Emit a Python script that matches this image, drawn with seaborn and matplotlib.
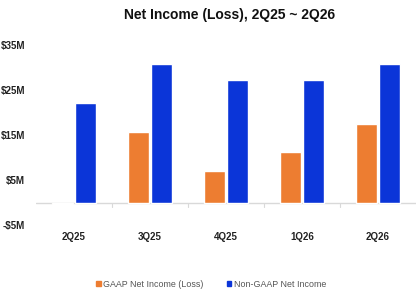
import matplotlib
matplotlib.use("Agg")
import matplotlib.pyplot as plt
from matplotlib.patches import Patch
import pandas as pd
import seaborn as sb
import numpy as np

quarters = ["2Q25", "3Q25", "4Q25", "1Q26", "2Q26"]
gaap = [-0.3, 15.8, 7.1, 11.2, 17.5]
non_gaap = [22.2, 30.7, 27.3, 27.3, 30.7]
series = ["GAAP Net Income (Loss)", "Non-GAAP Net Income"]
yticks = [-5, 5, 15, 25, 35]
ytick_labels = ["-$5M", "$5M", "$15M", "$25M", "$35M"]

colors = {series[0]: "#ED7D31", series[1]: "#0B35D8"}

df = pd.DataFrame({
    "quarter": quarters * 2,
    "value": gaap + non_gaap,
    "series": [series[0]] * len(quarters) + [series[1]] * len(quarters),
})

sb.set_style("white")
plt.rcParams["font.family"] = ["Liberation Sans", "DejaVu Sans"]

fig = plt.figure(figsize=(4.16, 2.95), dpi=100)
ax = fig.add_axes([0.0865, 0.237, 0.9135, 0.61])

sb.barplot(data=df, x="quarter", y="value", hue="series", palette=colors,
           width=0.6, gap=0.1, saturation=1, ax=ax, legend=False, zorder=2)

ax.set_xlim(-0.5, 4.5)
ax.set_ylim(-5, 35)
ax.set_yticks(yticks)
ax.set_yticklabels(ytick_labels, fontsize=7, fontweight="bold", color="#222222")
ax.set_xlabel("")
ax.set_ylabel("")
ax.tick_params(axis="y", length=0, pad=8)
ax.tick_params(axis="x", length=0, pad=0)
for spine in ax.spines.values():
    spine.set_visible(False)

# baseline at zero with small marks between quarters
ax.axhline(0, color="#d9d9d9", lw=1, zorder=0)
for b in np.arange(0.5, 4.5, 1):
    ax.plot([b, b], [0, -0.9], color="#d9d9d9", lw=0.8, zorder=0)

ax.set_xticks(range(len(quarters)))
ax.set_xticklabels([])
for i, q in enumerate(quarters):
    ax.text(i, -7.6, q, ha="center", va="center", fontsize=7,
            fontweight="bold", color="#222222")

fig.text(0.553, 0.948, "Net Income (Loss), 2Q25 ~ 2Q26", ha="center",
         va="center", fontsize=10, fontweight="bold", color="#111111")

handles = [Patch(color=colors[s], label=s) for s in series]
fig.legend(handles=handles, loc="center", bbox_to_anchor=(0.508, 0.037),
           ncol=2, frameon=False, fontsize=6.4, handlelength=0.5,
           handleheight=0.5, handletextpad=0.3, columnspacing=2.6,
           labelcolor="#555555")

fig.savefig("out.png", dpi=100)
